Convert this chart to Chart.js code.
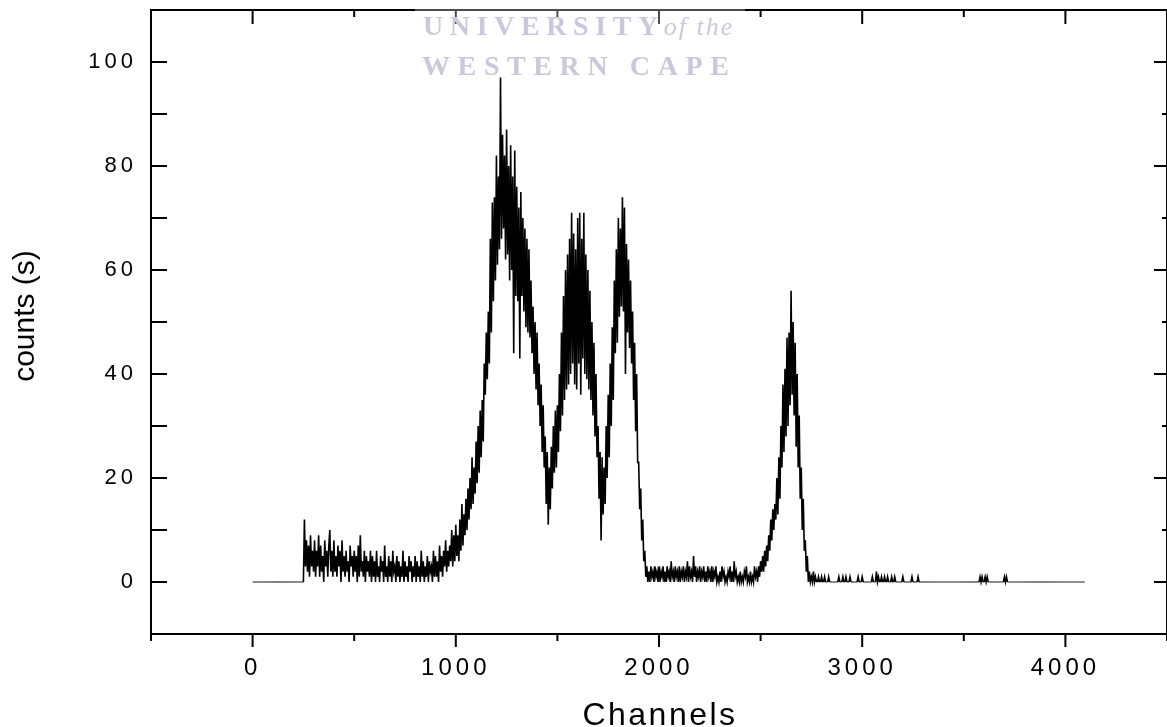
<!DOCTYPE html>
<html>
<head>
<meta charset="utf-8">
<title>Spectrum - counts per channel</title>
<script src="https://cdn.jsdelivr.net/npm/chart.js@4.4.1/dist/chart.umd.min.js"></script>
<style>
  html, body { margin: 0; padding: 0; background: #fff; }
</style>
</head>
<body>
<canvas id="specChart" width="1167" height="727"></canvas>
<script>
// one value every 5 channels (channel 0 .. 4095)
const channelStep = 5;
const counts = [
    // 0 - 195
    0, 0, 0, 0, 0, 0, 0, 0, 0, 0, 0, 0, 0, 0, 0, 0, 0, 0, 0, 0,
    0, 0, 0, 0, 0, 0, 0, 0, 0, 0, 0, 0, 0, 0, 0, 0, 0, 0, 0, 0,
    // 200 - 395
    0, 0, 0, 0, 0, 0, 0, 0, 0, 0, 0, 12, 3, 8, 2, 7, 1, 9, 3, 6,
    2, 8, 1, 6, 3, 9, 1, 7, 2, 5, 0, 8, 3, 6, 1, 7, 10, 2, 6, 1,
    // 400 - 595
    8, 2, 5, 1, 7, 3, 6, 0, 8, 2, 5, 1, 6, 2, 4, 0, 7, 3, 5, 1,
    6, 2, 5, 0, 7, 1, 9, 2, 4, 1, 6, 0, 5, 2, 4, 1, 6, 0, 5, 1,
    // 600 - 795
    4, 0, 6, 1, 3, 0, 5, 2, 4, 0, 7, 1, 3, 0, 5, 1, 4, 0, 6, 2,
    3, 0, 5, 1, 4, 0, 3, 1, 6, 0, 4, 1, 3, 0, 5, 2, 4, 0, 3, 1,
    // 800 - 995
    5, 0, 4, 1, 3, 0, 6, 1, 4, 0, 3, 1, 5, 0, 4, 2, 3, 0, 6, 1,
    5, 1, 4, 0, 7, 2, 5, 1, 6, 3, 8, 2, 6, 3, 7, 4, 10, 3, 9, 4,
    // 1000 - 1195
    11, 5, 9, 4, 12, 6, 15, 7, 13, 9, 16, 10, 18, 12, 20, 14, 24, 15, 22, 17,
    27, 19, 30, 21, 33, 24, 35, 27, 42, 36, 48, 39, 52, 42, 66, 48, 73, 54, 74, 58,
    // 1200 - 1395
    82, 61, 78, 64, 97, 66, 86, 68, 82, 62, 87, 63, 80, 58, 84, 60, 78, 44, 83, 55,
    76, 54, 72, 43, 75, 55, 70, 52, 68, 49, 66, 48, 64, 47, 58, 44, 53, 40, 50, 37,
    // 1400 - 1595
    48, 34, 42, 30, 38, 25, 34, 22, 28, 15, 25, 11, 22, 14, 26, 18, 30, 21, 33, 22,
    34, 25, 40, 29, 48, 32, 55, 35, 60, 37, 63, 38, 66, 40, 71, 42, 67, 38, 64, 37,
    // 1600 - 1795
    70, 42, 71, 36, 66, 43, 71, 40, 63, 39, 60, 37, 56, 35, 50, 32, 46, 28, 40, 24,
    30, 16, 25, 8, 24, 13, 22, 15, 30, 20, 36, 24, 42, 30, 49, 35, 58, 44, 64, 46,
    // 1800 - 1995
    70, 51, 68, 53, 74, 52, 72, 40, 65, 48, 62, 45, 58, 42, 52, 35, 46, 29, 40, 23,
    23, 14, 18, 8, 12, 4, 6, 1, 3, 0, 2, 0, 3, 1, 2, 0, 3, 1, 2, 0,
    // 2000 - 2195
    3, 0, 2, 1, 3, 0, 2, 0, 3, 1, 2, 0, 4, 1, 2, 0, 3, 1, 2, 0,
    3, 0, 2, 1, 3, 0, 2, 1, 4, 0, 3, 1, 2, 0, 5, 1, 3, 0, 2, 1,
    // 2200 - 2395
    3, 0, 2, 1, 3, 0, 2, 0, 3, 1, 2, 0, 3, 0, 2, 1, 3, 0, 1, 0,
    2, 0, 3, 1, 2, 0, 1, 0, 2, 1, 3, 0, 2, 0, 4, 1, 2, 0, 1, 0,
    // 2400 - 2595
    2, 0, 1, 0, 2, 1, 3, 0, 1, 0, 2, 0, 1, 0, 3, 1, 2, 0, 3, 1,
    4, 2, 5, 2, 6, 3, 7, 4, 9, 6, 12, 8, 14, 10, 15, 12, 20, 13, 24, 16,
    // 2600 - 2795
    30, 22, 38, 25, 41, 28, 47, 30, 48, 34, 56, 36, 50, 32, 46, 26, 40, 22, 32, 16,
    22, 10, 16, 6, 8, 2, 5, 0, 2, 0, 1, 0, 2, 0, 1, 0, 0, 1, 0, 0,
    // 2800 - 2995
    1, 0, 0, 1, 0, 0, 0, 1, 0, 0, 0, 0, 0, 0, 0, 0, 0, 1, 0, 0,
    0, 1, 0, 0, 1, 0, 0, 0, 1, 0, 0, 0, 0, 0, 0, 0, 1, 0, 0, 0,
    // 3000 - 3195
    1, 0, 0, 0, 0, 0, 0, 0, 0, 0, 1, 0, 0, 0, 2, 0, 1, 0, 0, 1,
    0, 0, 1, 0, 0, 1, 0, 0, 0, 1, 0, 0, 1, 0, 0, 0, 0, 0, 0, 0,
    // 3200 - 3395
    1, 0, 0, 0, 0, 0, 0, 0, 0, 1, 0, 0, 0, 0, 0, 1, 0, 0, 0, 0,
    0, 0, 0, 0, 0, 0, 0, 0, 0, 0, 0, 0, 0, 0, 0, 0, 0, 0, 0, 0,
    // 3400 - 3595
    0, 0, 0, 0, 0, 0, 0, 0, 0, 0, 0, 0, 0, 0, 0, 0, 0, 0, 0, 0,
    0, 0, 0, 0, 0, 0, 0, 0, 0, 0, 0, 0, 0, 0, 0, 0, 1, 0, 1, 0,
    // 3600 - 3795
    0, 1, 0, 1, 0, 0, 0, 0, 0, 0, 0, 0, 0, 0, 0, 0, 0, 0, 0, 0,
    1, 0, 1, 0, 0, 0, 0, 0, 0, 0, 0, 0, 0, 0, 0, 0, 0, 0, 0, 0,
    // 3800 - 3995
    0, 0, 0, 0, 0, 0, 0, 0, 0, 0, 0, 0, 0, 0, 0, 0, 0, 0, 0, 0,
    0, 0, 0, 0, 0, 0, 0, 0, 0, 0, 0, 0, 0, 0, 0, 0, 0, 0, 0, 0,
    // 4000 - 4095
    0, 0, 0, 0, 0, 0, 0, 0, 0, 0, 0, 0, 0, 0, 0, 0, 0, 0, 0, 0
];

const xLabels = [0, 1000, 2000, 3000, 4000];
const xMinor = [-500, 500, 1500, 2500, 3500, 4500];
const yLabels = [0, 20, 40, 60, 80, 100];
const yMinor = [-10, 10, 30, 50, 70, 90, 110];

const xTitle = 'Channels';
const yTitle = 'counts (s)';
const watermark = ['UNIVERSITY', 'of the', 'WESTERN CAPE'];

const points = counts.map((c, i) => ({ x: i * channelStep, y: c }));

// frame, inward/outward ticks and the watermark, drawn under the trace
const framePlugin = {
    id: 'frame',
    beforeDraw(chart) {
        chart.ctx.letterSpacing = '4px';
    },
    beforeDatasetsDraw(chart) {
        const ctx = chart.ctx;
        const a = chart.chartArea;
        const xs = chart.scales.x, ys = chart.scales.y;
        ctx.save();
        ctx.strokeStyle = '#000';
        ctx.lineWidth = 2;
        ctx.beginPath();
        ctx.moveTo(a.left, a.top); ctx.lineTo(a.right, a.top);
        ctx.moveTo(a.left, a.top - 1); ctx.lineTo(a.left, a.bottom + 1);
        ctx.moveTo(a.left, a.bottom); ctx.lineTo(a.right, a.bottom);
        ctx.moveTo(a.right, a.top); ctx.lineTo(a.right, a.bottom);
        // x ticks: bottom outward, top inward
        xLabels.concat(xMinor).forEach(v => {
            const px = xs.getPixelForValue(v);
            const major = xLabels.includes(v);
            ctx.moveTo(px, a.bottom); ctx.lineTo(px, a.bottom + (major ? 13 : 7));
            ctx.moveTo(px, a.top); ctx.lineTo(px, a.top + (major ? 14 : 7));
        });
        // y ticks: both inward
        yLabels.concat(yMinor).forEach(v => {
            const py = ys.getPixelForValue(v);
            const major = yLabels.includes(v);
            ctx.moveTo(a.left, py); ctx.lineTo(a.left + 16, py);
            ctx.moveTo(a.right, py); ctx.lineTo(a.right - (major ? 13 : 5), py);
        });
        ctx.stroke();

        // watermark
        ctx.fillStyle = 'rgba(255,255,255,0.3)';
        ctx.fillRect(415, 0, 330, 76);
        ctx.fillStyle = '#c8cadc';
        ctx.textBaseline = 'alphabetic';
        ctx.textAlign = 'left';
        ctx.font = 'bold 28px "Liberation Serif"';
        ctx.letterSpacing = '6.6px';
        ctx.fillText(watermark[0], 423, 35);
        const w = ctx.measureText(watermark[0]).width;
        ctx.font = 'italic 26px "Liberation Serif"';
        ctx.letterSpacing = '2px';
        ctx.fillText(watermark[1], 423 + w - 1, 35);
        ctx.font = 'bold 28px "Liberation Serif"';
        ctx.letterSpacing = '7.6px';
        ctx.fillText(watermark[2], 422, 75);
        ctx.restore();
    },
    afterDraw(chart) {
        const ctx = chart.ctx;
        const a = chart.chartArea;
        ctx.save();
        ctx.fillStyle = '#000';
        ctx.textAlign = 'center';
        ctx.textBaseline = 'alphabetic';
        ctx.font = '32px "Liberation Sans"';
        ctx.letterSpacing = '2.5px';
        ctx.fillText(xTitle, (a.left + a.right) / 2 + 1, 725);
        ctx.letterSpacing = '0px';
        ctx.font = '30px "Liberation Sans"';
        ctx.translate(34, 316);
        ctx.rotate(-Math.PI / 2);
        ctx.fillText(yTitle, 0, 0);
        ctx.restore();
    }
};

const ctx = document.getElementById('specChart').getContext('2d');
const specChart = new Chart(ctx, {
    type: 'line',
    data: {
        datasets: [{
            data: points,
            borderColor: '#000',
            borderWidth: 1,
            pointRadius: 0,
            tension: 0,
            fill: false,
            // flat empty stretches stay hairline, the noisy trace a bit heavier
            segment: {
                borderWidth: s => (s.p0.parsed.y === 0 && s.p1.parsed.y === 0) ? 1 : 1.6
            }
        }]
    },
    options: {
        responsive: false,
        animation: false,
        devicePixelRatio: 1,
        layout: { padding: { top: 10, right: 0, left: 0, bottom: 0 } },
        plugins: { legend: { display: false }, tooltip: { enabled: false } },
        scales: {
            x: {
                type: 'linear',
                min: -500,
                max: 4500,
                grid: { display: false, drawTicks: false },
                border: { display: false },
                ticks: {
                    stepSize: 500,
                    autoSkip: false,
                    maxRotation: 0,
                    padding: 20,
                    color: '#000',
                    font: { family: 'Liberation Sans', size: 24 },
                    callback: v => xLabels.includes(v) ? String(v) : ''
                },
                afterFit: s => {
                    s.height = 93;
                    s.paddingLeft = 0; s.paddingRight = 0;
                    s.paddingTop = 0; s.paddingBottom = 0;
                }
            },
            y: {
                type: 'linear',
                min: -10,
                max: 110,
                grid: { display: false, drawTicks: false },
                border: { display: false },
                ticks: {
                    stepSize: 10,
                    autoSkip: false,
                    padding: 14,
                    color: '#000',
                    font: { family: 'Liberation Sans', size: 22 },
                    callback: v => yLabels.includes(v) ? String(v) : ''
                },
                afterFit: s => {
                    s.width = 151;
                    s.paddingLeft = 0; s.paddingRight = 0;
                    s.paddingTop = 0; s.paddingBottom = 0;
                }
            }
        }
    },
    plugins: [framePlugin]
});
</script>
</body>
</html>
